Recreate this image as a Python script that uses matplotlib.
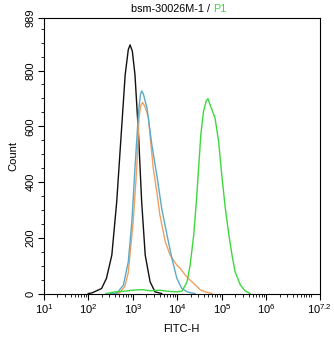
import numpy as np
from matplotlib import pyplot as plt

# histogram outlines (x in log10 units, y = count)
black_x = [2.00, 2.08, 2.30, 2.41, 2.53, 2.64, 2.74, 2.83, 2.90, 2.94, 2.99,
           3.05, 3.13, 3.20, 3.28, 3.39, 3.50, 3.65]
black_y = [0, 2, 18, 55, 138, 330, 570, 785, 875, 892, 870,
           785, 570, 330, 138, 42, 6, 0]

blue_x = [2.50, 2.64, 2.79, 2.90, 2.98, 3.05, 3.13, 3.17, 3.20, 3.24, 3.32,
          3.43, 3.54, 3.65, 3.77, 3.88, 3.99, 4.10, 4.20, 4.29, 4.40]
blue_y = [0, 1, 30, 114, 258, 450, 653, 710, 727, 715, 665,
          533, 426, 306, 210, 126, 55, 19, 8, 3, 0]

orange_x = [2.55, 2.70, 2.82, 2.90, 3.01, 3.09, 3.14, 3.18, 3.22, 3.27, 3.35,
            3.46, 3.54, 3.61, 3.73, 3.84, 3.99, 4.07, 4.18, 4.29, 4.36, 4.52,
            4.65, 4.78]
orange_y = [0, 2, 25, 75, 258, 450, 629, 675, 685, 672, 635,
            450, 366, 282, 186, 138, 102, 90, 66, 48, 38, 13,
            5, 0]

green_x = [2.40, 2.60, 2.80, 3.00, 3.20, 3.40, 3.60, 3.80, 4.00, 4.11, 4.22,
           4.29, 4.37, 4.43, 4.48, 4.53, 4.59, 4.65, 4.69, 4.73, 4.78, 4.85,
           4.93, 5.00, 5.08, 5.15, 5.23, 5.30, 5.42, 5.53, 5.64]
green_y = [0, 6, 8, 12, 14, 10, 12, 8, 6, 9, 42,
           102, 210, 330, 450, 570, 653, 690, 699, 680, 659, 629,
           545, 426, 306, 222, 138, 78, 30, 9, 0]

x_ticks = [1, 2, 3, 4, 5, 6, 7.2]
x_labels = ["10$^{1}$", "10$^{2}$", "10$^{3}$", "10$^{4}$", "10$^{5}$",
            "10$^{6}$", "10$^{7.2}$"]
y_ticks = [0, 200, 400, 600, 800, 989]

plt.rcParams["font.family"] = ["Liberation Sans", "DejaVu Sans"]
plt.rcParams["mathtext.fontset"] = "custom"
plt.rcParams["mathtext.rm"] = "Liberation Sans"
plt.rcParams["mathtext.default"] = "regular"

fig = plt.figure(figsize=(3.34, 3.37), dpi=100)
ax = fig.add_axes([0.131, 0.129, 0.826, 0.818])

ax.plot(black_x, black_y, color="#111111", lw=1.0)
ax.plot(orange_x, orange_y, color="#f0a060", lw=1.0)
ax.plot(blue_x, blue_y, color="#5aaac8", lw=1.0)
ax.plot(green_x, green_y, color="#3ed83e", lw=1.0)

ax.set_xlim(1, 7.2)
ax.set_ylim(0, 989)

ax.set_xticks(x_ticks)
ax.set_xticklabels(x_labels, fontsize=8)
minor_x = [d + np.log10(k) for d in range(1, 7) for k in range(2, 11)]
ax.set_xticks(minor_x, minor=True)

ax.set_yticks(y_ticks)
ax.set_yticklabels([str(v) for v in y_ticks], fontsize=8, rotation=90, va="center")
ax.set_yticks(np.arange(50, 989, 50), minor=True)

ax.tick_params(axis="both", which="major", length=4, width=0.8, direction="out")
ax.tick_params(axis="both", which="minor", length=2, width=0.6, direction="out")
ax.tick_params(axis="x", pad=2)
ax.tick_params(axis="y", pad=2)

for s in ax.spines.values():
    s.set_linewidth(0.8)

ax.set_xlabel("FITC-H", fontsize=8, labelpad=6)
ax.set_ylabel("Count", fontsize=8, labelpad=5)

fig.text(0.638, 0.974, "bsm-30026M-1 / ", ha="right", va="center", fontsize=7.8)
fig.text(0.638, 0.974, "P1", ha="left", va="center", fontsize=7.8, color="#3ed83e")

fig.savefig("out.png", dpi=100)
